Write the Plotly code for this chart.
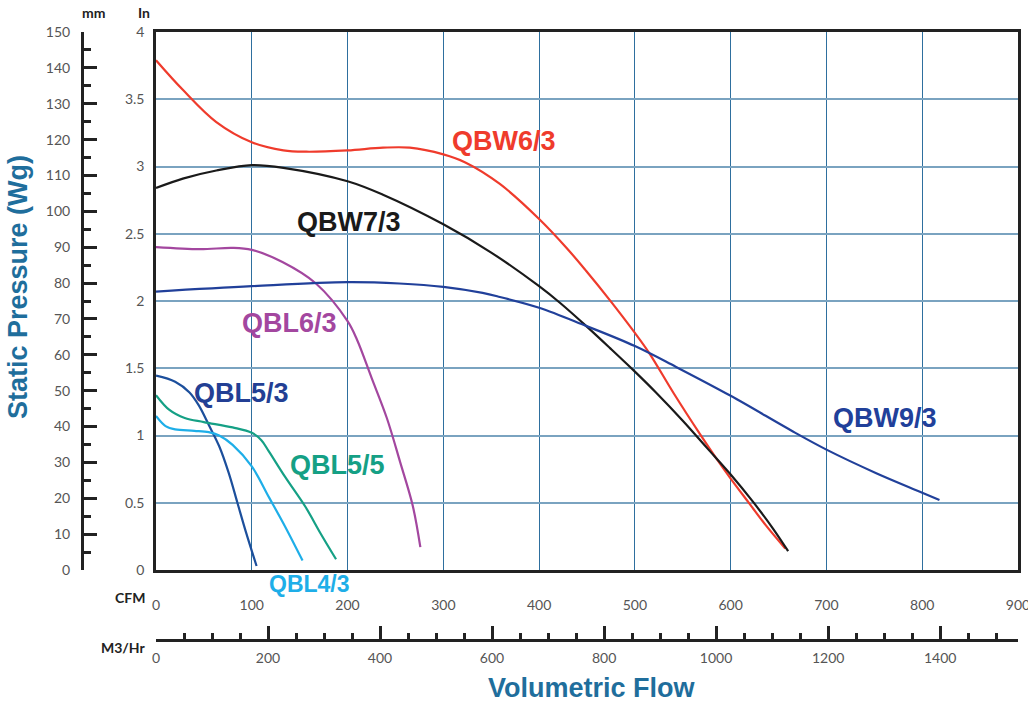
import plotly.graph_objects as go

# ---------------- data (CFM vs static pressure in inches wg) ----------------
qbw63_cfm = [0, 28, 63, 100, 133, 157, 200, 237, 265, 300, 323, 359, 400, 428, 449, 474, 500, 515, 540, 568, 585, 600, 620, 637, 657]
qbw63_in = [3.79, 3.57, 3.33, 3.18, 3.12, 3.11, 3.12, 3.14, 3.14, 3.09, 3.03, 2.87, 2.61, 2.40, 2.225, 2.005, 1.763, 1.613, 1.32, 1.01, 0.83, 0.68, 0.49, 0.33, 0.16]

qbw73_cfm = [0, 28, 63, 100, 133, 200, 237, 300, 350, 400, 422, 449, 474, 500, 522, 550, 575, 600, 623, 644, 660]
qbw73_in = [2.84, 2.91, 2.97, 3.01, 2.99, 2.89, 2.79, 2.57, 2.36, 2.11, 1.985, 1.815, 1.65, 1.475, 1.32, 1.11, 0.91, 0.71, 0.51, 0.31, 0.14]

qbl63_cfm = [0, 46, 80, 100, 132, 167, 200, 210, 225, 241, 255, 268, 276]
qbl63_in = [2.40, 2.385, 2.395, 2.38, 2.29, 2.13, 1.85, 1.71, 1.43, 1.13, 0.80, 0.48, 0.17]

qbw93_cfm = [0, 100, 200, 254, 300, 341, 359, 400, 449, 500, 543, 600, 665, 700, 752, 800, 818]
qbw93_in = [2.07, 2.11, 2.14, 2.13, 2.105, 2.06, 2.03, 1.95, 1.815, 1.665, 1.51, 1.295, 1.03, 0.895, 0.72, 0.575, 0.52]

qbl53_cfm = [0, 20, 35, 45, 55, 66, 76, 85, 94, 105]
qbl53_in = [1.445, 1.40, 1.32, 1.22, 1.08, 0.92, 0.72, 0.50, 0.28, 0.03]

qbl43_cfm = [0, 10, 20, 40, 55, 66, 80, 100, 118, 135, 153]
qbl43_in = [1.145, 1.07, 1.045, 1.035, 1.025, 1.00, 0.93, 0.77, 0.54, 0.32, 0.07]

qbl55_cfm = [0, 14, 30, 50, 80, 100, 110, 118, 135, 156, 172, 188]
qbl55_in = [1.30, 1.19, 1.13, 1.10, 1.06, 1.02, 0.965, 0.88, 0.69, 0.47, 0.27, 0.08]

series_names = ["QBW6/3", "QBW7/3", "QBL6/3", "QBW9/3", "QBL5/3", "QBL4/3", "QBL5/5"]
series_colors = ["#ef3b2c", "#1a1a1a", "#a3479f", "#21409a", "#1c4f9c", "#1eaee8", "#15a085"]
label_colors = ["#ef3b2c", "#1a1a1a", "#a3479f", "#21409a", "#233f94", "#1eaee8", "#15a085"]
series_x = [qbw63_cfm, qbw73_cfm, qbl63_cfm, qbw93_cfm, qbl53_cfm, qbl43_cfm, qbl55_cfm]
series_y = [qbw63_in, qbw73_in, qbl63_in, qbw93_in, qbl53_in, qbl43_in, qbl55_in]

# label anchor positions (CFM, in)
label_x = [363, 201, 139, 761, 89, 160, 190]
label_y = [3.19, 2.59, 1.835, 1.13, 1.315, None, 0.78]

cfm_ticks = [0, 100, 200, 300, 400, 500, 600, 700, 800, 900]
in_ticks = [0, 0.5, 1, 1.5, 2, 2.5, 3, 3.5, 4]
mm_range = [0, 150]
m3_range = [0, 1539]

W, H = 1028, 702
xdom = [156 / W, 1018 / W]
ydom = [(H - 570) / H, (H - 32) / H]

fig = go.Figure()
for name, col, xs, ys in zip(series_names, series_colors, series_x, series_y):
    fig.add_trace(go.Scatter(x=xs, y=ys, mode="lines", name=name,
                             line=dict(color=col, width=2.2, shape="spline", smoothing=1.0),
                             showlegend=False, hoverinfo="skip"))

# invisible traces to hold secondary axes
fig.add_trace(go.Scatter(x=[0], y=mm_range, yaxis="y2", mode="markers",
                         marker=dict(opacity=0), showlegend=False, hoverinfo="skip"))
fig.add_trace(go.Scatter(x=m3_range, y=[0, 0], xaxis="x2", mode="markers",
                         marker=dict(opacity=0), showlegend=False, hoverinfo="skip"))

tickfont = dict(family="Lato", size=14, color="#555555")
axcol = "#222222"

annotations = []
for name, col, lx, ly in zip(series_names, label_colors, label_x, label_y):
    if ly is None:
        annotations.append(dict(x=lx, y=(H - 584) / H, xref="x", yref="paper", text=name,
                                xanchor="center", yanchor="middle", showarrow=False,
                                font=dict(family="Liberation Sans", size=23, color=col, weight="bold")))
    else:
        annotations.append(dict(x=lx, y=ly, xref="x", yref="y", text=name, showarrow=False,
                                xanchor="center", yanchor="middle",
                                font=dict(family="Liberation Sans", size=27, color=col, weight="bold")))

hdr = dict(family="Lato", size=14, color="#222222", weight="bold")


def paper_text(px, py, text, font, **kw):
    return dict(x=px / W, y=(H - py) / H, xref="paper", yref="paper", text=text,
                xanchor="center", yanchor="middle", showarrow=False, font=font, **kw)


title_font = dict(family="Liberation Sans", size=27, color="#1f6e9c", weight="bold")
annotations += [
    paper_text(93, 12, "mm", hdr),
    paper_text(144, 12, "In", hdr),
    paper_text(130, 597, "CFM", hdr),
    paper_text(123, 647, "M3/Hr", hdr),
    paper_text(18, 287, "Static Pressure (Wg)", title_font, textangle=-90),
    paper_text(592, 688, "Volumetric Flow", title_font),
]

fig.update_layout(
    width=W, height=H,
    margin=dict(l=0, r=0, t=0, b=0, autoexpand=False),
    paper_bgcolor="white", plot_bgcolor="white",
    showlegend=False,
    xaxis=dict(domain=xdom, range=[0, 900], tickvals=cfm_ticks, showgrid=True,
               gridcolor="#2e6f9e", gridwidth=1, showline=True, linecolor=axcol, linewidth=2.5,
               mirror=True, ticks="outside", ticklen=20, tickcolor="rgba(0,0,0,0)",
               tickfont=tickfont, zeroline=False, anchor="y", automargin=False,
               ticklabeloverflow="allow"),
    yaxis=dict(domain=ydom, range=[0, 4], tickvals=in_ticks, showgrid=True,
               gridcolor="#7aa3c0", gridwidth=1.5, showline=True, linecolor=axcol, linewidth=2.5,
               mirror=True, ticks="outside", ticklen=6, tickcolor="rgba(0,0,0,0)",
               tickfont=tickfont, zeroline=False, anchor="x", automargin=False),
    yaxis2=dict(overlaying="y", anchor="free", position=82 / W, side="left", range=mm_range,
                dtick=10, tick0=0, ticks="inside", ticklen=13, tickwidth=3, tickcolor=axcol,
                showline=True, linecolor=axcol, linewidth=3, showgrid=False, zeroline=False,
                minor=dict(dtick=5, tick0=0, ticks="inside", ticklen=7, tickwidth=3, tickcolor=axcol,
                           showgrid=False),
                tickfont=tickfont, ticklabelstandoff=8, automargin=False),
    xaxis2=dict(overlaying="x", anchor="free", position=(H - 640) / H, side="bottom", range=m3_range,
                dtick=200, tick0=0, ticks="inside", ticklen=13, tickwidth=2.5, tickcolor=axcol,
                showline=True, linecolor=axcol, linewidth=3, showgrid=False, zeroline=False,
                minor=dict(dtick=50, tick0=0, ticks="inside", ticklen=6, tickwidth=2.5, tickcolor=axcol,
                           showgrid=False),
                tickfont=tickfont, ticklabelstandoff=4, automargin=False),
    annotations=annotations,
)

fig.write_html("out.html", config={"displayModeBar": False},
               post_script="document.body.style.margin='0';document.body.style.padding='0';")
